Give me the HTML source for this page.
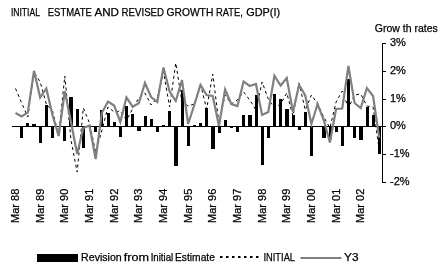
<!DOCTYPE html>
<html><head><meta charset="utf-8"><style>
html,body{margin:0;padding:0;background:#fff;width:444px;height:274px;overflow:hidden}
svg{display:block;will-change:transform}
text{font-family:"Liberation Sans",sans-serif;font-size:11px;fill:#000;stroke:#000;stroke-width:0.25px}
</style></head><body>
<svg width="444" height="274" viewBox="0 0 444 274">
<rect width="444" height="274" fill="#fff"/>
<text x="10.90" y="15.8" textLength="29.10" lengthAdjust="spacingAndGlyphs">INITIAL</text><text x="47.80" y="15.8" textLength="44.00" lengthAdjust="spacingAndGlyphs">ESTMATE</text><text x="94.40" y="15.8" textLength="24.50" lengthAdjust="spacingAndGlyphs">AND</text><text x="121.60" y="15.8" textLength="42.40" lengthAdjust="spacingAndGlyphs">REVISED</text><text x="166.60" y="15.8" textLength="46.70" lengthAdjust="spacingAndGlyphs">GROWTH</text><text x="216.00" y="15.8" textLength="26.90" lengthAdjust="spacingAndGlyphs">RATE,</text><text x="246.20" y="15.8" textLength="33.90" lengthAdjust="spacingAndGlyphs">GDP(I)</text>
<text x="374.8" y="32.2" textLength="63" lengthAdjust="spacingAndGlyphs">Grow th rates</text>
<g fill="#000" shape-rendering="crispEdges"><rect x="20" y="126" width="3" height="12"/><rect x="26" y="123" width="3" height="4"/><rect x="32" y="124" width="4" height="3"/><rect x="39" y="126" width="3" height="17"/><rect x="45" y="105" width="3" height="22"/><rect x="51" y="126" width="3" height="12"/><rect x="63" y="126" width="3" height="15"/><rect x="69" y="97" width="4" height="30"/><rect x="76" y="109" width="3" height="18"/><rect x="82" y="126" width="3" height="22"/><rect x="94" y="126" width="3" height="6"/><rect x="100" y="110" width="3" height="17"/><rect x="107" y="113" width="3" height="14"/><rect x="113" y="122" width="3" height="5"/><rect x="119" y="126" width="3" height="11"/><rect x="125" y="106" width="3" height="21"/><rect x="131" y="114" width="3" height="13"/><rect x="137" y="126" width="4" height="5"/><rect x="144" y="116" width="3" height="11"/><rect x="150" y="119" width="3" height="8"/><rect x="156" y="126" width="3" height="6"/><rect x="162" y="125" width="3" height="2"/><rect x="168" y="111" width="3" height="16"/><rect x="174" y="126" width="4" height="40"/><rect x="181" y="90" width="3" height="37"/><rect x="187" y="126" width="3" height="20"/><rect x="193" y="125" width="3" height="2"/><rect x="199" y="123" width="3" height="4"/><rect x="205" y="108" width="3" height="19"/><rect x="211" y="126" width="4" height="23"/><rect x="218" y="126" width="3" height="7"/><rect x="224" y="120" width="3" height="7"/><rect x="230" y="126" width="3" height="2"/><rect x="236" y="126" width="3" height="6"/><rect x="242" y="115" width="3" height="12"/><rect x="248" y="115" width="4" height="12"/><rect x="255" y="95" width="3" height="32"/><rect x="261" y="126" width="3" height="39"/><rect x="267" y="126" width="3" height="12"/><rect x="273" y="94" width="3" height="33"/><rect x="279" y="99" width="3" height="28"/><rect x="285" y="109" width="4" height="18"/><rect x="292" y="115" width="3" height="12"/><rect x="298" y="126" width="3" height="4"/><rect x="304" y="112" width="3" height="15"/><rect x="310" y="126" width="3" height="30"/><rect x="322" y="126" width="4" height="12"/><rect x="329" y="126" width="3" height="13"/><rect x="335" y="126" width="3" height="6"/><rect x="341" y="126" width="3" height="20"/><rect x="347" y="79" width="3" height="48"/><rect x="353" y="126" width="3" height="12"/><rect x="359" y="126" width="4" height="14"/><rect x="366" y="107" width="3" height="20"/><rect x="372" y="115" width="3" height="12"/><rect x="378" y="126" width="3" height="28"/></g>
<line x1="12" y1="126.5" x2="386" y2="126.5" stroke="#000" stroke-width="1"/>
<polyline points="15.50,88.50 21.66,103.00 27.83,117.00 34.00,72.00 40.16,82.00 46.33,104.00 52.49,111.00 58.66,135.00 64.82,76.00 70.98,140.00 77.15,172.00 83.31,108.00 89.48,123.00 95.64,152.00 101.81,131.00 107.97,107.00 114.14,112.00 120.31,111.00 126.47,120.00 132.63,109.00 138.80,98.00 144.97,93.00 151.13,105.00 157.29,98.00 163.46,72.00 169.62,107.00 175.79,63.00 181.96,102.00 188.12,106.00 194.28,104.00 200.45,84.00 206.62,109.00 212.78,74.00 218.94,123.00 225.11,95.00 231.28,104.00 237.44,100.00 243.60,92.00 249.77,100.00 255.94,110.00 262.10,82.00 268.26,99.00 274.43,108.00 280.60,104.00 286.76,93.00 292.93,116.00 299.09,83.00 305.25,110.00 311.42,95.00 317.58,104.00 323.75,117.00 329.92,128.00 336.08,102.00 342.25,91.00 348.41,108.00 354.57,95.00 360.74,94.00 366.91,106.00 373.07,107.00 379.24,150.00" fill="none" stroke="#000" stroke-width="1" stroke-dasharray="3 3"/>
<polyline points="15.50,113.00 21.66,116.40 27.83,112.40 34.00,70.80 40.16,97.50 46.33,88.50 52.49,115.00 58.66,136.00 64.82,91.00 70.98,122.00 77.15,154.00 83.31,128.00 89.48,125.50 95.64,159.00 101.81,113.00 107.97,101.50 114.14,105.50 120.31,122.00 126.47,97.50 132.63,106.70 138.80,103.30 144.97,83.00 151.13,97.00 157.29,102.00 163.46,67.40 169.62,91.60 175.79,101.00 181.96,80.00 188.12,124.00 194.28,105.00 200.45,85.00 206.62,95.00 212.78,96.00 218.94,126.00 225.11,89.50 231.28,104.00 237.44,106.00 243.60,81.50 249.77,86.00 255.94,84.00 262.10,115.00 268.26,112.00 274.43,75.70 280.60,85.50 286.76,78.00 292.93,112.00 299.09,85.00 305.25,95.50 311.42,124.00 317.58,104.00 323.75,120.00 329.92,142.50 336.08,109.00 342.25,108.50 348.41,66.00 354.57,103.00 360.74,108.00 366.91,88.00 373.07,96.00 379.24,137.80" fill="none" stroke="#808080" stroke-width="2.2" stroke-linejoin="miter"/>
<g stroke="#000" stroke-width="1">
<line x1="382.5" y1="43" x2="382.5" y2="183"/>
<line x1="382" y1="43.5" x2="386" y2="43.5"/><line x1="382" y1="71.5" x2="386" y2="71.5"/><line x1="382" y1="99.5" x2="386" y2="99.5"/><line x1="382" y1="126.5" x2="386" y2="126.5"/><line x1="382" y1="154.5" x2="386" y2="154.5"/><line x1="382" y1="182.5" x2="386" y2="182.5"/>
</g>
<text x="390" y="46.0">3%</text><text x="390" y="74.0">2%</text><text x="390" y="102.0">1%</text><text x="390" y="129.0">0%</text><text x="390" y="157.0">-1%</text><text x="390" y="185.0">-2%</text>
<text transform="translate(19.00,188.7) rotate(-90)" text-anchor="end">Mar 88</text><text transform="translate(43.66,188.7) rotate(-90)" text-anchor="end">Mar 89</text><text transform="translate(68.32,188.7) rotate(-90)" text-anchor="end">Mar 90</text><text transform="translate(92.98,188.7) rotate(-90)" text-anchor="end">Mar 91</text><text transform="translate(117.64,188.7) rotate(-90)" text-anchor="end">Mar 92</text><text transform="translate(142.30,188.7) rotate(-90)" text-anchor="end">Mar 93</text><text transform="translate(166.96,188.7) rotate(-90)" text-anchor="end">Mar 94</text><text transform="translate(191.62,188.7) rotate(-90)" text-anchor="end">Mar 95</text><text transform="translate(216.28,188.7) rotate(-90)" text-anchor="end">Mar 96</text><text transform="translate(240.94,188.7) rotate(-90)" text-anchor="end">Mar 97</text><text transform="translate(265.60,188.7) rotate(-90)" text-anchor="end">Mar 98</text><text transform="translate(290.26,188.7) rotate(-90)" text-anchor="end">Mar 99</text><text transform="translate(314.92,188.7) rotate(-90)" text-anchor="end">Mar 00</text><text transform="translate(339.58,188.7) rotate(-90)" text-anchor="end">Mar 01</text><text transform="translate(364.24,188.7) rotate(-90)" text-anchor="end">Mar 02</text>
<rect x="37" y="254" width="41" height="8" fill="#000"/>
<text x="81.10" y="260.8" textLength="40.60" lengthAdjust="spacingAndGlyphs">Revision</text><text x="123.80" y="260.8" textLength="25.20" lengthAdjust="spacingAndGlyphs">from</text><text x="150.70" y="260.8" textLength="22.50" lengthAdjust="spacingAndGlyphs">Initial</text><text x="175.00" y="260.8" textLength="39.90" lengthAdjust="spacingAndGlyphs">Estimate</text>
<line x1="220" y1="257" x2="259" y2="257" stroke="#000" stroke-width="2" stroke-dasharray="2.5 3.5"/>
<text x="263.5" y="260.8" textLength="31.5" lengthAdjust="spacingAndGlyphs">INITIAL</text>
<line x1="300.5" y1="258" x2="341.5" y2="258" stroke="#808080" stroke-width="2"/>
<text x="344" y="260.8" textLength="14.5" lengthAdjust="spacingAndGlyphs">Y3</text>
</svg>
</body></html>
